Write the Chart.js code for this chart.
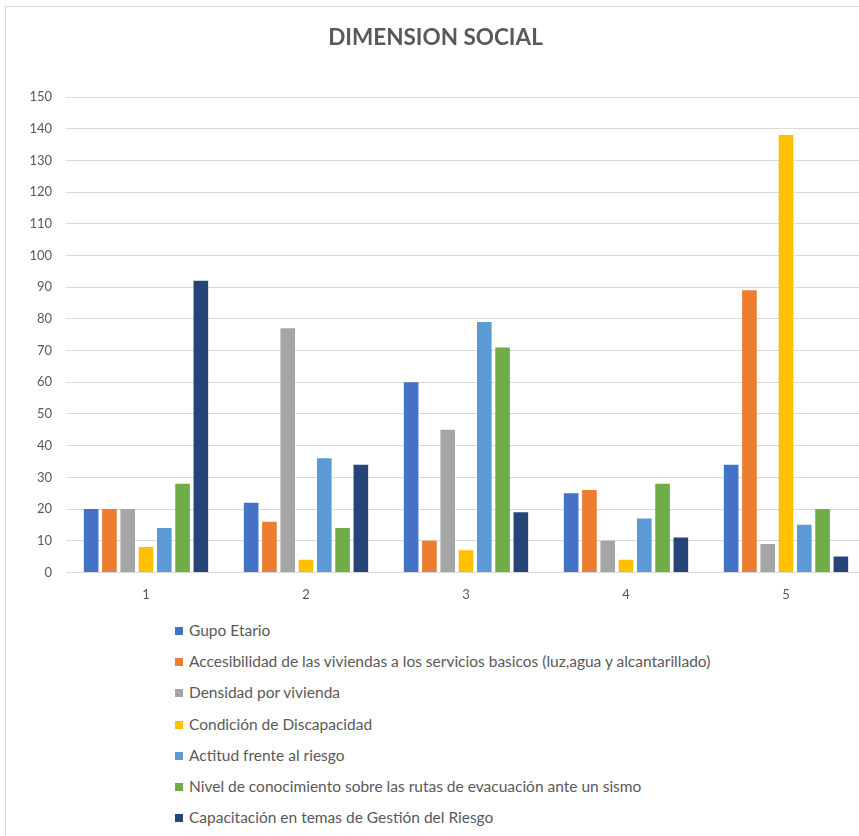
<!DOCTYPE html>
<html>
<head>
<meta charset="utf-8">
<script src="https://cdn.jsdelivr.net/npm/chart.js@4.4.1/dist/chart.umd.min.js"></script>
<style>
  html, body { margin: 0; padding: 0; background: #fff; overflow: hidden; }
  body { width: 859px; height: 836px; position: relative; }
  #frame { position: absolute; left: 5px; top: 6px; width: 900px; height: 900px; border: 1px solid #d9d9d9; }
  #wrap { position: absolute; left: 5px; top: 6px; width: 861px; height: 610px; }
  #legend { position: absolute; left: 175px; top: 620px; font-family: Lato, "Open Sans", sans-serif; font-size: 15.5px; color: #595959; }
  #legend div { height: 31.2px; line-height: 20px; white-space: nowrap; }
  #legend span.box { display: inline-block; width: 8px; height: 8px; margin-right: 6px; vertical-align: 1px; }
</style>
</head>
<body>
<div id="frame"></div>
<div id="wrap"><canvas id="social-chart"></canvas></div>
<div id="legend"></div>
<script>
var categories = ['1', '2', '3', '4', '5'];
var seriesNames = [
  'Gupo Etario',
  'Accesibilidad de las viviendas a los servicios basicos (luz,agua y alcantarillado)',
  'Densidad por vivienda',
  'Condición de Discapacidad',
  'Actitud frente al riesgo',
  'Nivel de conocimiento sobre las rutas de evacuación ante un sismo',
  'Capacitación en temas de Gestión del Riesgo'
];
var grupoEtario = [20, 22, 60, 25, 34];
var accesibilidad = [20, 16, 10, 26, 89];
var densidad = [20, 77, 45, 10, 9];
var discapacidad = [8, 4, 7, 4, 138];
var actitud = [14, 36, 79, 17, 15];
var conocimiento = [28, 14, 71, 28, 20];
var capacitacion = [92, 34, 19, 11, 5];
var colors = ['#4472c4', '#ed7d31', '#a5a5a5', '#ffc000', '#5b9bd5', '#70ad47', '#264478'];

var values = [grupoEtario, accesibilidad, densidad, discapacidad, actitud, conocimiento, capacitacion];

var ctx = document.getElementById('social-chart');
var chart = new Chart(ctx, {
  type: 'bar',
  data: {
    labels: categories,
    datasets: values.map(function (v, i) {
      return {
        label: seriesNames[i],
        data: v,
        backgroundColor: colors[i],
        barPercentage: 0.8,
        categoryPercentage: 0.8
      };
    })
  },
  options: {
    responsive: true,
    maintainAspectRatio: false,
    animation: false,
    layout: { padding: { left: 0, right: 0, top: 0, bottom: 6 } },
    plugins: {
      legend: { display: false },
      tooltip: { enabled: false },
      title: {
        display: true,
        text: 'DIMENSION SOCIAL',
        color: '#595959',
        font: { family: 'Lato, "Open Sans", sans-serif', size: 22.5, weight: 'bold' },
        padding: { top: 18, bottom: 46 }
      }
    },
    scales: {
      x: {
        grid: { display: false },
        border: { color: '#d9d9d9' },
        ticks: { color: '#595959', font: { family: 'Lato, sans-serif', size: 13 }, padding: 7 }
      },
      y: {
        min: 0,
        max: 150,
        afterFit: function (scale) { scale.width = 61; },
        grid: { color: '#d9d9d9', drawTicks: false },
        border: { display: false },
        ticks: { stepSize: 10, color: '#595959', font: { family: 'Lato, sans-serif', size: 13 }, padding: 14 }
      }
    }
  }
});

// legend as a vertical list under the chart
var legend = document.getElementById('legend');
seriesNames.forEach(function (name, i) {
  var row = document.createElement('div');
  var box = document.createElement('span');
  box.className = 'box';
  box.style.background = colors[i];
  row.appendChild(box);
  row.appendChild(document.createTextNode(name));
  legend.appendChild(row);
});
</script>
</body>
</html>
